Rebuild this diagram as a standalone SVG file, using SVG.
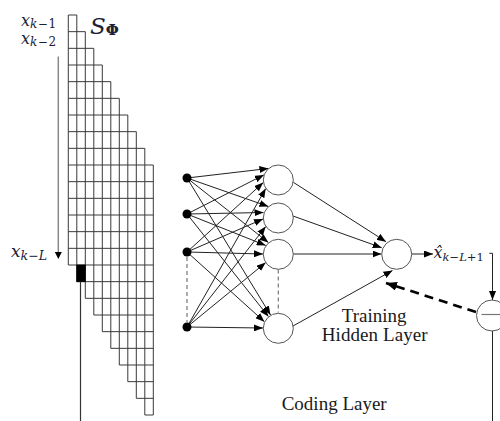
<svg xmlns="http://www.w3.org/2000/svg" width="500" height="421" viewBox="0 0 500 421">
<style>
.grid{fill:none;stroke:#3a3a3a;stroke-width:1}
.edge{stroke:#222;stroke-width:1;fill:none}
.hid{fill:#fff;stroke:#555;stroke-width:1}
.inp{fill:#000}
.dash{stroke:#777;stroke-width:1.2;stroke-dasharray:4 3;fill:none}
.math{font-family:"DejaVu Serif",serif;font-style:italic;fill:#1b2236}
.up{font-style:normal}
.lbl{font-family:"Liberation Serif",serif;font-size:19px;fill:#1a1a1a}
</style>
<defs>
<marker id="ah" markerUnits="userSpaceOnUse" markerWidth="9" markerHeight="7" refX="9" refY="3.5" orient="auto">
<path d="M0,0 L9,3.5 L0,7 z" fill="#000"/>
</marker>
<marker id="ahb" markerUnits="userSpaceOnUse" markerWidth="11" markerHeight="9" refX="11" refY="4.5" orient="auto">
<path d="M0,0 L11,4.5 L0,9 z" fill="#000"/>
</marker>
</defs>
<rect width="500" height="421" fill="#fff"/>

<g id="matrix">
<path class="grid" d="M68.3,15H76.8M68.3,31.67H85.3M68.3,48.33H93.8M68.3,65H102.3M68.3,81.67H110.8M68.3,98.33H119.3M68.3,115H127.8M68.3,131.67H136.3M68.3,148.33H144.8M68.3,165H153.3M68.3,181.67H153.3M68.3,198.33H153.3M68.3,215H153.3M68.3,231.67H153.3M68.3,248.33H153.3M68.3,265H153.3M76.8,281.67H153.3M85.3,298.33H153.3M93.8,315H153.3M102.3,331.67H153.3M110.8,348.33H153.3M119.3,365H153.3M127.8,381.67H153.3M136.3,398.33H153.3M144.8,415H153.3"/>
<path class="grid" d="M68.3,15V265M76.8,15V281.67M85.3,31.67V298.33M93.8,48.33V315M102.3,65V331.67M110.8,81.67V348.33M119.3,98.33V365M127.8,115V381.67M136.3,131.67V398.33M144.8,148.33V415M153.3,165V415"/>
<rect x="76.8" y="265" width="8.5" height="16.67" fill="#000" stroke="#000" stroke-width="0.8"/>
<line x1="80.5" y1="281.67" x2="80.5" y2="421" stroke="#333" stroke-width="1.2"/>
<line x1="58.3" y1="56.5" x2="58.3" y2="252" stroke="#8a8a8a" stroke-width="1.5"/>
<path d="M54.8,252 L61.8,252 L58.3,259 z" fill="#000"/>
<text class="math" x="21" y="25.5" font-size="16">x<tspan font-size="12" dy="2">k<tspan class="up" dx="0.5">−</tspan><tspan class="up" dx="0.5">1</tspan></tspan></text>
<text class="math" x="21" y="43.5" font-size="16">x<tspan font-size="12" dy="2">k<tspan class="up" dx="0.5">−</tspan><tspan class="up" dx="0.5">2</tspan></tspan></text>
<text class="math" x="11" y="256.5" font-size="17">x<tspan font-size="12.5" dy="3.5">k<tspan class="up">−</tspan>L</tspan></text>
<text class="math" x="90" y="33.5" font-size="23" font-family="Liberation Serif">S<tspan class="up" font-size="15" font-weight="bold" dy="1.5">Φ</tspan></text>
</g>

<g id="connectors">
<line class="edge" x1="187" y1="178" x2="268.4" y2="168.5" marker-end="url(#ah)"/>
<line class="edge" x1="187" y1="214" x2="263.9" y2="174.9" marker-end="url(#ah)"/>
<line class="edge" x1="187" y1="252" x2="263.2" y2="182.6" marker-end="url(#ah)"/>
<line class="edge" x1="187" y1="327" x2="265.7" y2="188.6" marker-end="url(#ah)"/>
<line class="edge" x1="187" y1="178" x2="268.4" y2="206.5" marker-end="url(#ah)"/>
<line class="edge" x1="187" y1="214" x2="263.5" y2="212.5" marker-end="url(#ah)"/>
<line class="edge" x1="187" y1="252" x2="263" y2="219" marker-end="url(#ah)"/>
<line class="edge" x1="187" y1="327" x2="265.7" y2="226.6" marker-end="url(#ah)"/>
<line class="edge" x1="187" y1="178" x2="268.4" y2="242.5" marker-end="url(#ah)"/>
<line class="edge" x1="187" y1="214" x2="265.7" y2="245.4" marker-end="url(#ah)"/>
<line class="edge" x1="187" y1="252" x2="263" y2="254" marker-end="url(#ah)"/>
<line class="edge" x1="187" y1="327" x2="265.7" y2="262.6" marker-end="url(#ah)"/>
<line class="edge" x1="187" y1="178" x2="270.5" y2="315" marker-end="url(#ah)"/>
<line class="edge" x1="187" y1="214" x2="268.4" y2="316.5" marker-end="url(#ah)"/>
<line class="edge" x1="187" y1="252" x2="264.4" y2="321.7" marker-end="url(#ah)"/>
<line class="edge" x1="187" y1="327" x2="263" y2="328" marker-end="url(#ah)"/>
<line class="edge" x1="293.3" y1="182.3" x2="386" y2="241.7" marker-end="url(#ah)"/>
<line class="edge" x1="293" y1="216" x2="381.7" y2="247.7" marker-end="url(#ah)"/>
<line class="edge" x1="293" y1="254" x2="381.5" y2="254" marker-end="url(#ah)"/>
<line class="edge" x1="293" y1="326" x2="392.5" y2="270.5" marker-end="url(#ah)"/>
<line class="edge" x1="412" y1="254" x2="433" y2="254" marker-end="url(#ah)"/>
<path class="edge" d="M489.3,253.3 H492.5 V300" marker-end="url(#ah)"/>
<line class="edge" x1="492.5" y1="330.5" x2="492.5" y2="421"/>
<line x1="476" y1="312" x2="386" y2="283" stroke="#000" stroke-width="2.6" stroke-dasharray="9 6" marker-end="url(#ahb)"/>
<line class="dash" x1="187" y1="257" x2="187" y2="322"/>
<line class="dash" x1="278.3" y1="269.5" x2="278.3" y2="312.5"/>
</g>

<g id="input1"><circle class="inp" cx="187" cy="178" r="4.5"/></g>
<g id="input2"><circle class="inp" cx="187" cy="214" r="4.5"/></g>
<g id="input3"><circle class="inp" cx="187" cy="252" r="4.5"/></g>
<g id="input4"><circle class="inp" cx="187" cy="327" r="4.5"/></g>

<g id="hidden1"><circle class="hid" cx="278.3" cy="180" r="15"/></g>
<g id="hidden2"><circle class="hid" cx="278.3" cy="218" r="15"/></g>
<g id="hidden3"><circle class="hid" cx="278.3" cy="254.3" r="15"/></g>
<g id="hidden4"><circle class="hid" cx="278.3" cy="328.3" r="15"/></g>

<g id="output"><circle class="hid" cx="396.7" cy="254.3" r="15"/>
<text class="math" x="433.5" y="258.3" font-size="16">x̂<tspan font-size="11.5" dy="2.4">k<tspan class="up">−</tspan>L<tspan class="up">+1</tspan></tspan></text>
</g>

<g id="subtractor"><circle class="hid" cx="492" cy="315.5" r="15.5"/>
<line x1="481.5" y1="314.5" x2="502" y2="314.5" stroke="#777" stroke-width="1.2"/></g>

<g id="labels">
<text class="lbl" x="341.7" y="322">Training</text>
<text class="lbl" x="321.7" y="341" textLength="106">Hidden Layer</text>
<text class="lbl" x="281.7" y="410">Coding Layer</text>
</g>
</svg>
